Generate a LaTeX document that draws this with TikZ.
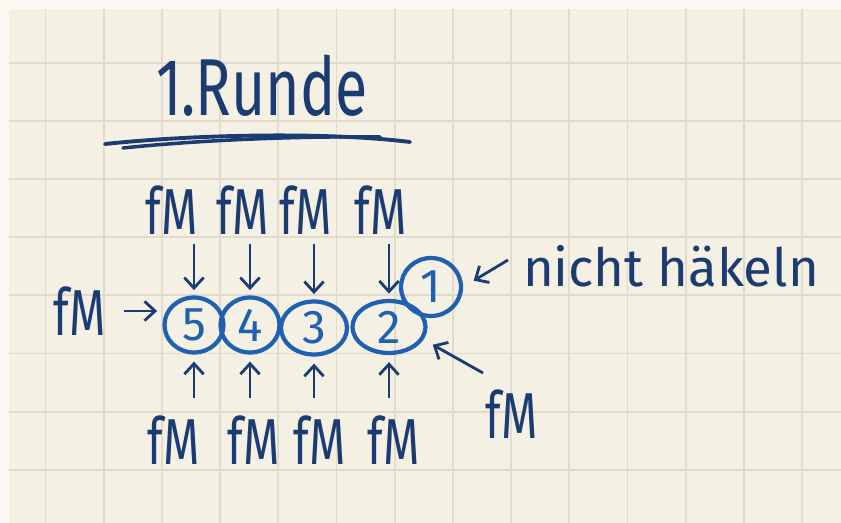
\documentclass[tikz,border=0pt]{standalone}
\usepackage{fontspec}
\setmainfont{Fira Sans}
\usepackage{graphicx}
\usetikzlibrary{shapes.geometric,arrows.meta}
\definecolor{paper}{RGB}{245,240,228}
\definecolor{margin}{RGB}{250,248,242}
\definecolor{gridline}{RGB}{226,219,205}
\definecolor{ink}{RGB}{27,60,114}
\definecolor{stitchblue}{RGB}{31,96,178}
\newcommand{\hand}[2][0.72]{\scalebox{#1}[1]{#2}}
\tikzstyle{stitch} = [ellipse, draw=stitchblue, line width=2.4pt,
  text=stitchblue, inner sep=0pt, font=\fontsize{27}{27}\selectfont]
\tikzstyle{fm} = [text=ink, inner sep=1pt, font=\fontsize{37}{37}\selectfont]
\tikzstyle{hint} = [draw=ink, line width=1.6pt,
  -{Straight Barb[length=6pt,width=11pt]}]

\begin{document}
\begin{tikzpicture}[x=0.02cm, y=-0.02cm]
  \useasboundingbox (0,0) rectangle (841,523);
  \fill[margin] (0,0) rectangle (841,523);
  \fill[paper] (9,9) rectangle (841,523);
  \foreach \i in {0,...,13}
    \draw[gridline, line width=1.1pt] (45.5+58.2*\i,9) -- (45.5+58.2*\i,523);
  \foreach \j in {0,...,7}
    \draw[gridline, line width=1.1pt] (9,63+58.1*\j) -- (841,63+58.1*\j);

  % title
  \node[text=ink, inner sep=0pt, font=\fontsize{46}{46}\selectfont] (head) at (262,86) {\hand[0.73]{1.Runde}};
  \draw[ink, line width=2.2pt, line cap=round] (105,144) .. controls (200,134) and (330,132) .. (410,142);
  \draw[ink, line width=2pt, line cap=round] (123,148) .. controls (200,140) and (300,136) .. (380,137);

  % stitches
  \node[stitch, minimum width=1.18cm, minimum height=1.1cm] (s5) at (194,325) {5};
  \node[stitch, minimum width=1.18cm, minimum height=1.1cm] (s4) at (250,325) {4};
  \node[stitch, minimum width=1.32cm, minimum height=1.06cm] (s3) at (314,328) {3};
  \node[stitch, minimum width=1.46cm, minimum height=1.04cm] (s2) at (389,327) {2};
  \node[stitch, minimum width=1.2cm, minimum height=1.16cm] (c1) at (431,287) {1};

  % fM above
  \node[fm] (t5) at (172,210) {\hand{fM}};
  \node[fm] (t4) at (243,210) {\hand{fM}};
  \node[fm] (t3) at (306,210) {\hand{fM}};
  \node[fm] (t2) at (381,210) {\hand{fM}};
  % fM below
  \node[fm] (b5) at (174,440) {\hand{fM}};
  \node[fm] (b4) at (254,440) {\hand{fM}};
  \node[fm] (b3) at (320,440) {\hand{fM}};
  \node[fm] (b2) at (394,440) {\hand{fM}};
  % fM left and corner
  \node[fm] (l5) at (80,311) {\hand{fM}};
  \node[fm] (f2) at (512,414) {\hand{fM}};
  \node[text=ink, inner sep=1pt, font=\fontsize{30}{30}\selectfont] (n1) at (671,266) {nicht häkeln};
  \coordinate (na) at (508,260);
  \coordinate (fa) at (483,373);

  \path[hint, shorten <=4pt, shorten >=3pt] (t5.south -| s5) -- (s5.north);
  \path[hint, shorten <=4pt, shorten >=3pt] (t4.south -| s4) -- (s4.north);
  \path[hint, shorten <=4pt, shorten >=3pt] (t3.south -| s3) -- (s3.north);
  \path[hint, shorten <=4pt, shorten >=3pt] (t2.south -| s2) -- (s2.north);

  \path[hint, shorten <=9pt, shorten >=4pt] (b5.north -| s5) -- (s5.south);
  \path[hint, shorten <=9pt, shorten >=4pt] (b4.north -| s4) -- (s4.south);
  \path[hint, shorten <=9pt, shorten >=4pt] (b3.north -| s3) -- (s3.south);
  \path[hint, shorten <=9pt, shorten >=4pt] (b2.north -| s2) -- (s2.south);

  \path[hint, shorten <=9pt, shorten >=3pt] (l5.east) -- (l5.east -| s5.west);
  \path[hint, shorten >=7pt] (na) -- (c1.east);
  \path[hint, shorten >=6pt] (fa) -- (s2.-20);
\end{tikzpicture}
\end{document}
